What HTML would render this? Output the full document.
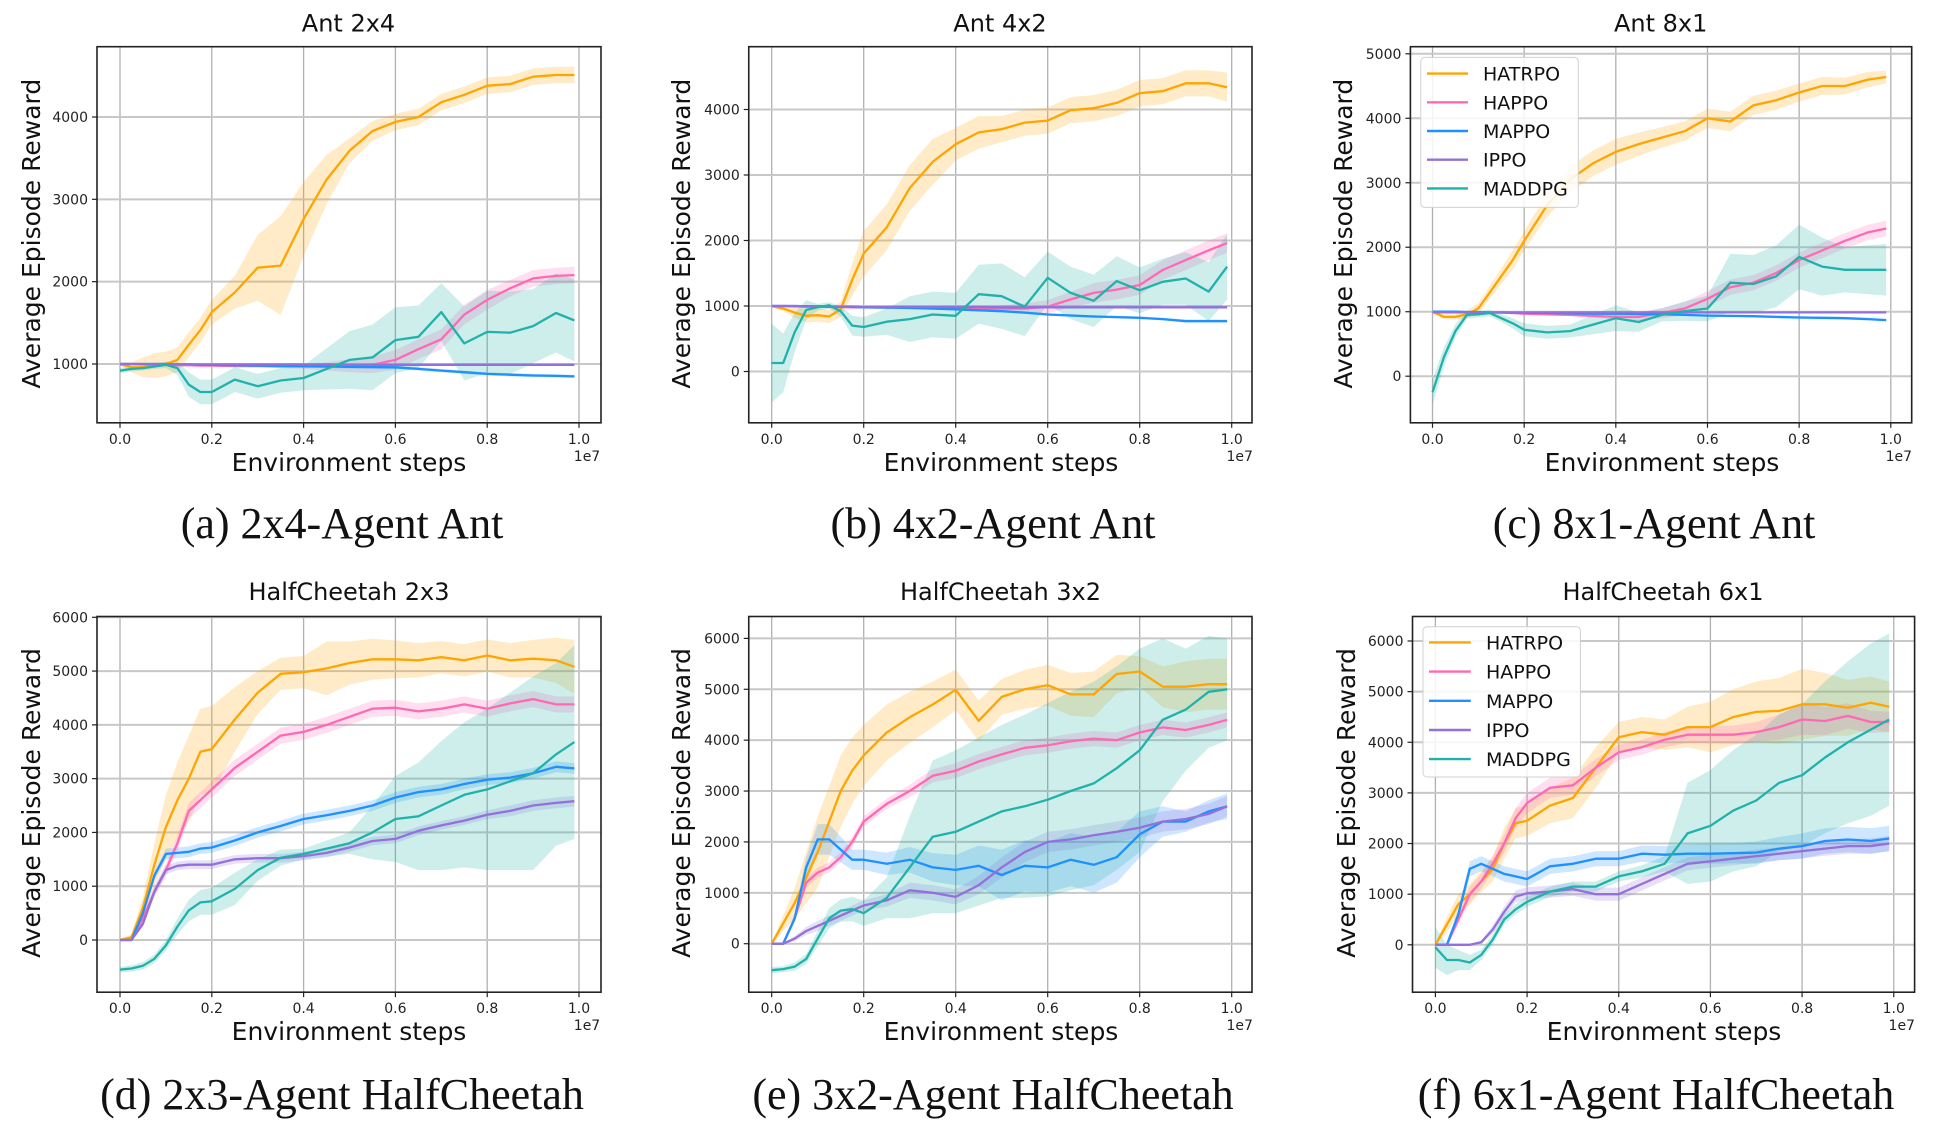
<!DOCTYPE html>
<html><head><meta charset="utf-8"><style>
html,body{margin:0;padding:0;background:#fff;}
svg{display:block;}
</style></head><body>
<svg id="fig" width="1952" height="1129" viewBox="0 0 1952 1129" xmlns="http://www.w3.org/2000/svg"></svg>
<script>
const xs = [0,0.025,0.05,0.075,0.1,0.125,0.15,0.175,0.2,0.25,0.3,0.35,0.4,0.45,0.5,0.55,0.6,0.65,0.7,0.75,0.8,0.85,0.9,0.95,0.99];
const seriesNames = ["HATRPO","HAPPO","MAPPO","IPPO","MADDPG"];
const seriesColors = ["#ffa500","#ff69b4","#1e90ff","#9370db","#20b2aa"];
const xTicks = [0,0.2,0.4,0.6,0.8,1.0];
const xTickLabels = ["0.0","0.2","0.4","0.6","0.8","1.0"];

// Panel a: Ant 2x4
const aMean = [
 [1000,960,960,980,1000,1050,1235,1410,1630,1870,2170,2195,2760,3240,3590,3830,3940,4000,4180,4270,4380,4400,4490,4510,4510],
 [1000,1000,995,990,990,985,985,980,980,975,975,970,970,970,980,990,1050,1180,1300,1600,1780,1920,2040,2070,2080],
 [1000,1000,1000,1000,1000,995,995,990,990,985,980,978,975,970,965,962,960,940,920,900,880,870,860,855,850],
 [1000,1000,1000,1000,1000,995,995,995,995,995,995,995,995,995,990,990,990,990,990,990,990,990,990,990,990],
 [920,940,950,970,990,950,750,660,660,810,730,800,830,940,1050,1080,1290,1330,1630,1250,1390,1380,1460,1620,1530]];
const aBand = [
 [20,60,120,150,150,150,150,150,150,200,400,600,450,300,150,120,100,100,100,100,100,100,100,100,100],
 [10,10,10,10,10,10,10,10,10,10,10,20,30,50,80,100,120,120,120,120,120,100,100,100,100],
 [5,5,5,5,10,10,10,10,15,15,15,15,20,20,20,20,20,20,20,20,20,20,20,20,20],
 [5,5,5,5,5,5,5,5,5,5,5,5,5,5,5,5,5,5,5,5,5,5,5,5,5],
 [30,30,30,30,40,80,150,150,150,150,150,150,150,250,350,400,400,380,350,450,500,500,450,480,500]];
// Panel b: Ant 4x2
const bMean = [
 [1000,960,900,850,860,840,950,1400,1800,2200,2800,3200,3470,3650,3700,3800,3830,3990,4020,4100,4250,4280,4400,4400,4340],
 [1000,1000,995,990,990,985,985,980,980,975,975,970,970,965,960,960,990,1100,1200,1250,1320,1550,1700,1850,1960],
 [1000,1000,1000,995,995,990,990,985,980,975,970,960,950,935,920,900,870,855,840,830,820,800,770,770,770],
 [1000,1000,1000,995,995,990,990,990,985,985,985,985,985,985,980,980,980,980,980,980,980,980,980,980,980],
 [130,130,600,940,980,1010,920,700,680,760,800,870,850,1180,1150,990,1430,1200,1080,1380,1240,1370,1420,1220,1600]];
const bBand = [
 [10,40,80,100,100,100,120,250,350,350,350,350,250,250,200,200,200,200,200,200,200,200,200,200,220],
 [10,10,10,10,10,10,10,10,10,10,10,15,20,30,50,80,100,120,150,150,150,150,150,150,150],
 [5,5,5,5,5,5,5,5,10,10,10,10,15,15,15,20,20,20,20,20,20,20,25,25,25],
 [5,5,5,5,5,5,5,5,5,5,5,5,5,5,5,5,5,5,5,5,5,5,5,5,5],
 [600,450,300,150,50,50,80,150,150,200,350,350,350,450,500,450,400,400,400,380,350,350,400,450,500]];
// Panel c: Ant 8x1
const cMean = [
 [1000,920,920,960,1050,1300,1550,1800,2100,2650,3050,3300,3480,3600,3700,3800,4000,3950,4200,4280,4400,4500,4500,4600,4640],
 [1000,1000,995,990,990,985,985,980,970,960,950,935,920,920,980,1050,1200,1380,1450,1600,1800,1950,2100,2230,2290],
 [1000,1000,1000,995,995,990,990,985,985,980,975,970,970,965,960,950,940,935,930,920,910,905,900,885,870],
 [990,990,990,990,990,990,990,990,990,990,990,990,990,990,990,990,990,990,990,990,990,990,990,990,990],
 [-250,300,700,950,960,980,900,820,720,680,700,800,900,840,950,1010,1050,1450,1430,1550,1850,1700,1650,1650,1650]];
const cBand = [
 [10,40,40,60,80,100,120,150,150,180,200,200,200,180,160,150,150,150,150,150,140,140,130,120,100],
 [10,10,10,10,10,10,10,10,10,15,20,30,40,60,80,100,120,120,120,120,120,120,120,120,120],
 [5,5,5,5,5,5,5,5,10,10,10,10,10,15,15,15,15,15,15,20,20,20,20,20,20],
 [5,5,5,5,5,5,5,5,5,5,5,5,5,5,5,5,5,5,5,5,5,5,5,5,5],
 [200,150,100,60,50,50,60,80,100,100,100,150,200,150,100,150,200,450,450,480,500,450,350,380,400]];
// Panel d: HalfCheetah 2x3
const dMean = [
 [0,50,600,1400,2100,2600,3000,3500,3550,4100,4600,4950,4980,5050,5150,5220,5220,5200,5260,5200,5290,5200,5230,5200,5080],
 [0,0,400,900,1300,1800,2400,2600,2800,3200,3500,3800,3870,4000,4150,4300,4320,4250,4300,4380,4300,4400,4480,4380,4380],
 [0,0,500,1200,1600,1620,1640,1700,1720,1850,2000,2120,2250,2320,2400,2500,2650,2750,2800,2900,2980,3020,3100,3220,3190],
 [0,0,300,900,1300,1380,1400,1400,1400,1500,1520,1520,1560,1620,1720,1840,1880,2030,2130,2220,2330,2400,2500,2550,2580],
 [-550,-530,-480,-350,-100,250,550,700,720,950,1300,1530,1600,1700,1800,2000,2250,2300,2500,2700,2800,2950,3100,3450,3680]];
const dBand = [
 [20,60,200,400,600,700,800,800,800,600,400,300,300,500,400,380,350,320,300,300,300,320,350,420,500],
 [10,10,60,100,120,150,150,150,150,150,150,150,150,150,150,150,150,150,150,150,150,150,150,150,150],
 [10,10,60,80,100,100,100,100,100,100,100,100,100,100,100,100,100,100,100,100,100,100,100,100,100],
 [10,10,50,80,80,80,80,80,80,80,80,80,80,80,80,80,80,80,80,80,80,100,100,100,100],
 [50,60,70,80,100,150,200,230,250,300,200,150,100,150,200,500,800,1000,1200,1350,1500,1650,1800,1700,1800]];
// Panel e: HalfCheetah 3x2
const eMean = [
 [0,400,800,1300,1800,2400,3000,3400,3700,4150,4450,4700,4990,4380,4850,5000,5080,4900,4900,5300,5350,5050,5050,5100,5100],
 [0,0,500,1200,1400,1500,1700,2000,2400,2750,3000,3300,3400,3580,3720,3850,3900,3980,4030,4000,4150,4250,4200,4300,4400],
 [0,0,500,1500,2050,2050,1850,1650,1650,1570,1650,1500,1450,1530,1350,1530,1500,1650,1550,1700,2150,2400,2400,2600,2700],
 [0,0,100,250,350,450,550,650,750,850,1050,1000,920,1150,1500,1800,2000,2050,2130,2200,2280,2400,2450,2550,2700],
 [-520,-500,-450,-300,100,500,650,680,600,900,1500,2100,2200,2400,2600,2700,2830,3000,3150,3450,3800,4400,4600,4950,5000]];
const eBand = [
 [20,150,300,500,700,700,700,650,600,550,500,450,400,400,350,380,400,420,450,380,300,400,500,500,500],
 [10,10,60,100,100,100,100,100,100,100,120,130,150,150,150,150,150,150,150,150,150,150,150,150,150],
 [10,10,100,200,300,300,250,200,200,220,250,280,300,400,500,500,500,520,550,500,450,300,200,220,250],
 [10,10,50,80,100,100,100,100,100,120,150,150,150,180,200,200,200,200,200,200,200,200,200,200,200],
 [60,60,80,100,150,200,220,240,250,400,1000,1500,1600,1650,1700,1800,1900,1950,2000,2000,2000,1600,1200,1100,1000]];
// Panel f: HalfCheetah 6x1
const fMean = [
 [0,400,800,1000,1250,1500,2000,2400,2450,2750,2900,3500,4100,4200,4150,4300,4300,4500,4600,4620,4750,4750,4680,4780,4700],
 [0,0,500,1000,1250,1600,2000,2500,2800,3100,3150,3500,3800,3900,4050,4150,4150,4150,4200,4300,4450,4420,4520,4400,4400],
 [0,0,600,1500,1600,1500,1400,1350,1300,1550,1600,1700,1700,1800,1780,1800,1800,1810,1820,1900,1950,2050,2080,2050,2100],
 [0,0,0,0,50,300,650,950,1020,1050,1100,1000,1000,1200,1400,1600,1650,1700,1750,1800,1850,1900,1950,1950,2000],
 [-50,-300,-300,-350,-200,100,500,700,850,1050,1150,1150,1350,1450,1600,2200,2350,2650,2850,3200,3350,3700,4000,4250,4450]];
const fBand = [
 [20,150,200,200,200,250,300,300,300,350,400,400,300,300,300,400,500,550,600,650,700,620,550,520,500],
 [10,10,100,150,150,150,180,200,200,200,180,170,150,150,150,160,170,180,200,250,300,280,250,220,200],
 [10,10,100,150,150,150,150,150,150,150,150,150,150,160,170,180,200,200,220,230,250,250,250,250,250],
 [10,10,10,10,30,80,100,120,120,120,130,130,130,130,130,130,130,130,130,130,140,140,150,150,150],
 [400,300,200,150,100,100,100,100,100,100,100,100,100,120,150,1000,1100,1200,1300,1350,1400,1500,1600,1700,1700]];

const panelTitles = ["Ant 2x4","Ant 4x2","Ant 8x1","HalfCheetah 2x3","HalfCheetah 3x2","HalfCheetah 6x1"];
const panelCaptions = ["(a) 2x4-Agent Ant","(b) 4x2-Agent Ant","(c) 8x1-Agent Ant","(d) 2x3-Agent HalfCheetah","(e) 3x2-Agent HalfCheetah","(f) 6x1-Agent HalfCheetah"];
const aYTicks = [1000,2000,3000,4000];
const bYTicks = [0,1000,2000,3000,4000];
const cYTicks = [0,1000,2000,3000,4000,5000];
const dYTicks = [0,1000,2000,3000,4000,5000,6000];
const eYTicks = [0,1000,2000,3000,4000,5000,6000];
const fYTicks = [0,1000,2000,3000,4000,5000,6000];

const NS = "http://www.w3.org/2000/svg";
const svg = document.getElementById('fig');
function el(tag, attrs, parent, text){
  const e = document.createElementNS(NS, tag);
  for (const k in attrs) e.setAttribute(k, attrs[k]);
  if (text !== undefined) e.textContent = text;
  (parent||svg).appendChild(e);
  return e;
}

const geo = [
 {L:97,R:601,T:46.7,B:422.8,x0:120,x1:579,v1:1000,p1:364,v2:4000,p2:117,row:0,ylx:40,tcx:348.5,ccx:342,xlcx:349,legend:false},
 {L:748.75,R:1252,T:46.7,B:422.8,x0:771.7,x1:1231.7,v1:0,p1:371.5,v2:4000,p2:109.5,row:0,ylx:690,tcx:1000,ccx:993,xlcx:1001,legend:false},
 {L:1410.4,R:1911.7,T:46.7,B:422.8,x0:1432.5,x1:1890.8,v1:0,p1:376.2,v2:5000,p2:53.8,row:0,ylx:1352,tcx:1660.7,ccx:1654,xlcx:1662,legend:true,lg:{x:1420.8,y:57.4,w:157.5,h:150,ys:[73.6,102.3,131,159.7,188.4],lx0:1427,lx1:1468,tx:1483}},
 {L:97,R:601,T:616.5,B:992.2,x0:120,x1:579,v1:0,p1:940,v2:6000,p2:617.3,row:1,ylx:40,tcx:349,ccx:342,xlcx:349,legend:false},
 {L:748.75,R:1252,T:616.5,B:992.2,x0:771.7,x1:1231.7,v1:0,p1:943.7,v2:6000,p2:638.4,row:1,ylx:690,tcx:1000.5,ccx:993,xlcx:1001,legend:false},
 {L:1412.5,R:1914.6,T:616.5,B:992.2,x0:1435.4,x1:1893.75,v1:0,p1:944.8,v2:6000,p2:641,row:1,ylx:1355,tcx:1663,ccx:1656,xlcx:1664,legend:true,lg:{x:1423,y:626.7,w:157.4,h:150.3,ys:[642.4,671.6,700.8,730,759.1],lx0:1429,lx1:1470.8,tx:1486}}
];
const rowText = [
 {title:31.6,xtick:444,xlabel:471,e7:461,cap:538,ylc:233.7},
 {title:600,xtick:1013,xlabel:1040,e7:1030,cap:1109,ylc:803}
];
const means = [aMean,bMean,cMean,dMean,eMean,fMean];
const bands = [aBand,bBand,cBand,dBand,eBand,fBand];
const yTicksAll = [aYTicks,bYTicks,cYTicks,dYTicks,eYTicks,fYTicks];
const panelKeys = ["a","b","c","d","e","f"];
const FONT = "DejaVu Sans, Liberation Sans, sans-serif";

geo.forEach((g, pi) => {
  const rt = rowText[g.row];
  const xScale = v => g.x0 + v * (g.x1 - g.x0);
  const yScale = v => g.p1 + (v - g.v1) * (g.p2 - g.p1) / (g.v2 - g.v1);
  const grp = el('g', {});
  
  

  const cp = el('clipPath', {id:'clip'+pi}, grp);
  el('rect', {x:g.L, y:g.T, width:g.R-g.L, height:g.B-g.T}, cp);

  const grid = el('g', {}, grp);
  
  
  xTicks.forEach(t => {
    const x = xScale(t);
    el('line', {x1:x, x2:x, y1:g.T, y2:g.B, stroke:'#b0b0b0', 'stroke-width':1.3}, grid);
  });
  yTicksAll[pi].forEach(t => {
    const y = yScale(t);
    el('line', {x1:g.L, x2:g.R, y1:y, y2:y, stroke:'#c8c8c8', 'stroke-width':2}, grid);
  });

  const plot = el('g', {'clip-path':'url(#clip'+pi+')'}, grp);
  means[pi].forEach((m, si) => {
    const b = bands[pi][si];
    let up = [], lo = [];
    xs.forEach((x, i) => {
      up.push(xScale(x).toFixed(1) + ',' + yScale(m[i] + b[i]).toFixed(1));
      lo.push(xScale(x).toFixed(1) + ',' + yScale(m[i] - b[i]).toFixed(1));
    });
    const band = el('polygon', {points: up.concat(lo.reverse()).join(' '), fill: seriesColors[si], 'fill-opacity':0.22, stroke:'none'}, plot);
    
    
  });
  means[pi].forEach((m, si) => {
    const pts = xs.map((x, i) => xScale(x).toFixed(1) + ',' + yScale(m[i]).toFixed(1)).join(' ');
    const ln = el('polyline', {points: pts, fill:'none', stroke: seriesColors[si], 'stroke-width':2.3, 'stroke-linejoin':'round'}, plot);
    
    
  });

  const fr = el('rect', {x:g.L, y:g.T, width:g.R-g.L, height:g.B-g.T, fill:'none', stroke:'#222', 'stroke-width':1.6}, grp);
  
  

  xTicks.forEach((t, i) => {
    const x = xScale(t);
    el('line', {x1:x, x2:x, y1:g.B, y2:g.B+5, stroke:'#222', 'stroke-width':1.2}, grp);
    const tl = el('text', {x:x, y:rt.xtick, 'text-anchor':'middle', 'font-family':FONT, 'font-size':14, fill:'#222'}, grp, xTickLabels[i]);
    
    
  });
  yTicksAll[pi].forEach(t => {
    const y = yScale(t);
    el('line', {x1:g.L-5, x2:g.L, y1:y, y2:y, stroke:'#222', 'stroke-width':1.2}, grp);
    const tl = el('text', {x:g.L-9, y:y+5, 'text-anchor':'end', 'font-family':FONT, 'font-size':14, fill:'#222'}, grp, String(t));
    
    
  });
  const e7 = el('text', {x:g.x1+8, y:rt.e7, 'text-anchor':'middle', 'font-family':FONT, 'font-size':14, fill:'#222'}, grp, '1e7');
  
  

  const ti = el('text', {x:g.tcx, y:rt.title, 'text-anchor':'middle', 'font-family':FONT, 'font-size':24, fill:'#111'}, grp, panelTitles[pi]);
  
  
  const xl = el('text', {x:g.xlcx, y:rt.xlabel, 'text-anchor':'middle', 'font-family':FONT, 'font-size':25, fill:'#111'}, grp, 'Environment steps');
  
  
  const yl = el('text', {x:0, y:0, 'text-anchor':'middle', 'font-family':FONT, 'font-size':25, fill:'#111', transform:'translate('+g.ylx+','+rt.ylc+') rotate(-90)'}, grp, 'Average Episode Reward');
  
  
  const cap = el('text', {x:g.ccx, y:rt.cap, 'text-anchor':'middle', 'font-family':'Liberation Serif, serif', 'font-size':44, fill:'#111'}, grp, panelCaptions[pi]);
  
  

  if (g.legend) {
    const lgd = el('g', {}, grp);
    
    
    el('rect', {x:g.lg.x, y:g.lg.y, width:g.lg.w, height:g.lg.h, rx:4, fill:'#fff', 'fill-opacity':0.85, stroke:'#d0d0d0', 'stroke-width':1}, lgd);
    seriesNames.forEach((n, si) => {
      const en = el('g', {}, lgd);
      
      
      el('line', {x1:g.lg.lx0, x2:g.lg.lx1, y1:g.lg.ys[si], y2:g.lg.ys[si], stroke:seriesColors[si], 'stroke-width':2.4}, en);
      el('text', {x:g.lg.tx, y:g.lg.ys[si]+7, 'font-family':FONT, 'font-size':19, fill:'#111'}, en, n);
    });
  }
});
</script>
</body></html>
